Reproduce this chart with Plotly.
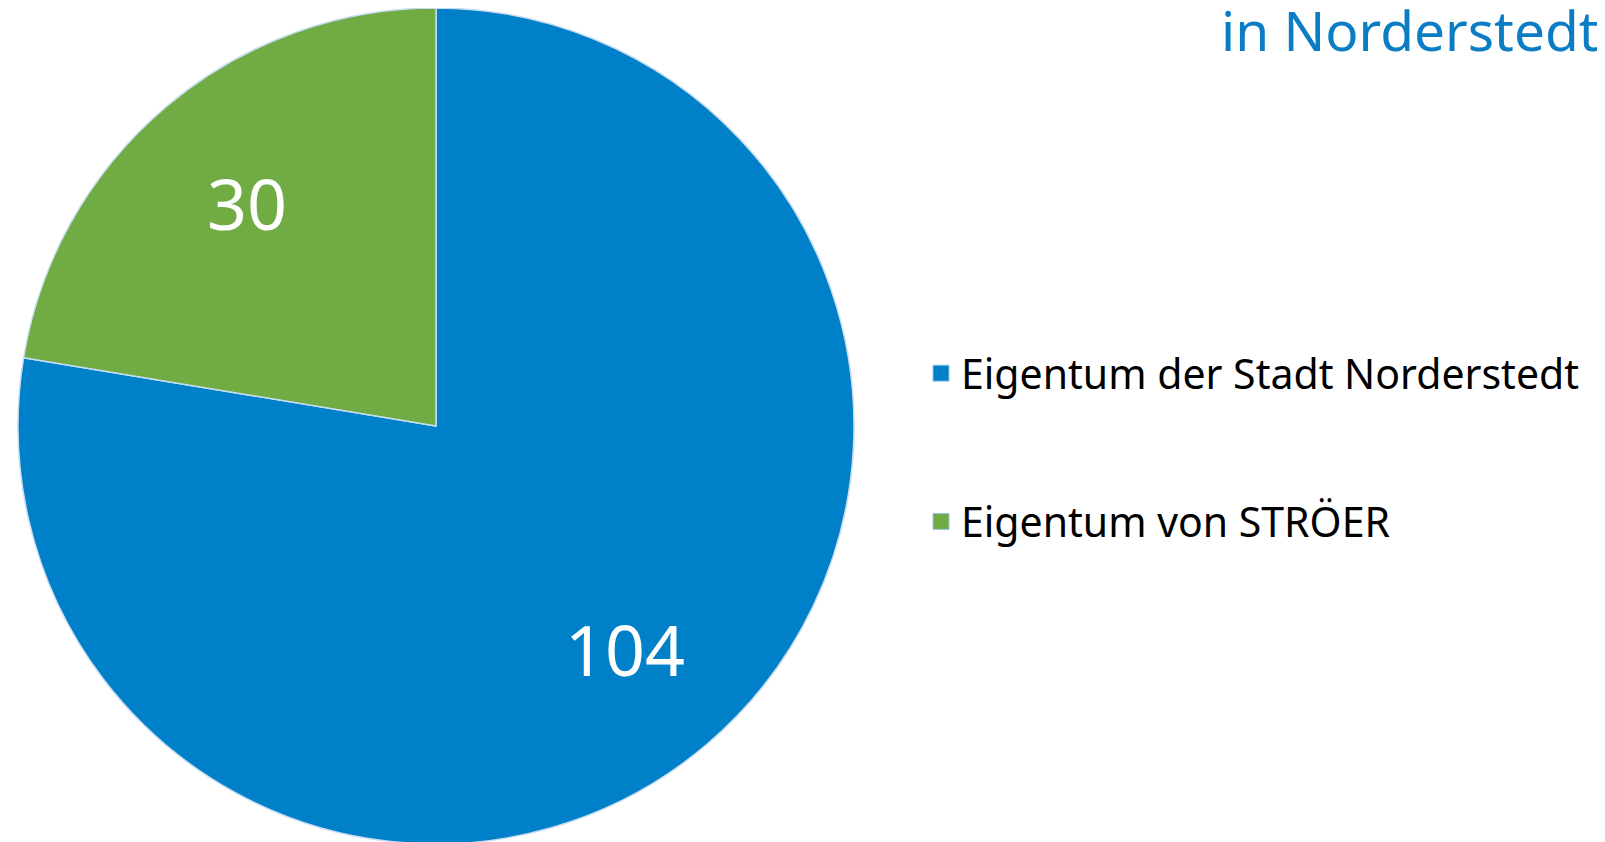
import math
import plotly.graph_objects as go

categories = ["Eigentum der Stadt Norderstedt", "Eigentum von STRÖER"]
values = [104, 30]
colors = ["#0080C8", "#71AB44"]
title_text = "in Norderstedt"

W, H = 1605, 842
# pie geometry (figure pixels)
PX0, PX1, PTOP, PBOT = 10, 846, 0, 836
LABEL_R = 0.70

fig = go.Figure()
fig.add_trace(go.Pie(
    labels=categories, values=values, sort=False, direction="clockwise", rotation=0,
    marker=dict(colors=colors, line=dict(color="#C9DDF2", width=1.5)),
    textinfo="none",
    domain=dict(x=[PX0 / W, PX1 / W], y=[1 - PBOT / H, 1 - PTOP / H]),
    showlegend=False, hoverinfo="label+value",
))
for i, (cat, col) in enumerate(zip(categories, colors)):
    fig.add_trace(go.Scatter(
        x=[None], y=[None], mode="markers", name=cat, legendgroup=f"g{i}",
        marker=dict(symbol="square", size=20, color=col, line=dict(color="#9DC3E6", width=1)),
        showlegend=True,
    ))

# value labels placed at mid-angle of each slice
total = sum(values)
cx, cy = (PX0 + PX1) / 2, (PTOP + PBOT) / 2
rad = (PBOT - PTOP) / 2
annotations = []
cum = 0
for v in values:
    mid = (cum + v / 2) / total * 2 * math.pi
    cum += v
    px = cx + LABEL_R * rad * math.sin(mid)
    py = cy - LABEL_R * rad * math.cos(mid)
    annotations.append(dict(text=str(v), x=px / W, y=1 - py / H, xref="paper", yref="paper",
                            xanchor="center", yanchor="middle", showarrow=False,
                            font=dict(family="Noto Sans", size=70, color="white")))
annotations.append(dict(text=title_text, x=1211 / W, y=1 + 18 / H, xref="paper", yref="paper",
                        xanchor="left", yanchor="top", showarrow=False,
                        font=dict(family="Noto Sans", size=55, color="#0A7DC4")))

fig.update_layout(
    width=W, height=H, margin=dict(l=0, r=0, t=0, b=0),
    paper_bgcolor="white", plot_bgcolor="white",
    xaxis=dict(visible=False), yaxis=dict(visible=False),
    showlegend=True,
    legend=dict(x=913 / W, y=1 - 332 / H, xanchor="left", yanchor="top",
                font=dict(family="Noto Sans", size=41, color="black"),
                tracegroupgap=92, itemsizing="trace", itemwidth=30,
                bgcolor="rgba(0,0,0,0)"),
    annotations=annotations,
)
fig.write_html("out.html")
